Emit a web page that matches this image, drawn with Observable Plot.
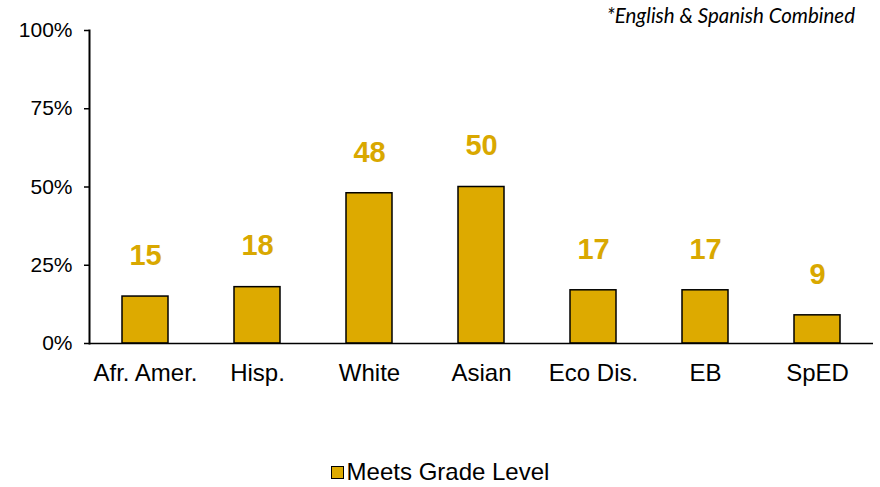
<!DOCTYPE html>
<html>
<head>
<meta charset="utf-8">
<script src="https://cdn.jsdelivr.net/npm/d3@7"></script>
<script src="https://cdn.jsdelivr.net/npm/@observablehq/plot@0.6"></script>
<style>
  html, body { margin: 0; padding: 0; background: #fff; }
  #wrap { position: relative; width: 880px; height: 487px; font-family: "Liberation Sans", Arial, sans-serif; }
  #note { position: absolute; top: 3px; right: 25px; font-family: Lato, "Open Sans", sans-serif; font-style: italic; font-size: 20.5px; color: #000; }
  #legend { position: absolute; top: 458px; left: 0; width: 880px; text-align: center; font-size: 24px; color: #000; white-space: nowrap; }
  #legend .sw { display: inline-block; width: 11px; height: 11px; background: #DDAA00; border: 1.5px solid #000; margin-right: 3px; vertical-align: 1px; }
  #chart { position: absolute; top: 0; left: 0; }
</style>
</head>
<body>
<div id="wrap">
  <div id="chart"></div>
  <div id="note">*English &amp; Spanish Combined</div>
  <div id="legend"><span class="sw"></span>Meets Grade Level</div>
</div>
<script>
const categories = ["Afr. Amer.", "Hisp.", "White", "Asian", "Eco Dis.", "EB", "SpED"];
const meetsGradeLevel = [15, 18, 48, 50, 17, 17, 9];
const yTicks = [0, 25, 50, 75, 100];
const seriesName = "Meets Grade Level";

const data = categories.map((c, i) => ({category: c, value: meetsGradeLevel[i]}));

const chart = Plot.plot({
  width: 880,
  height: 487,
  marginLeft: 89,
  marginRight: 7,
  marginTop: 30,
  marginBottom: 144,
  style: {fontFamily: "Liberation Sans, Arial, sans-serif", background: "transparent"},
  x: {domain: categories, paddingInner: 0.59, paddingOuter: 0.295, label: null},
  y: {domain: [0, 100], label: null},
  marks: [
    Plot.barY(data, {x: "category", y: "value", fill: "#DDAA00", stroke: "#000", strokeWidth: 1.5}),
    Plot.text(data, {x: "category", y: "value", text: d => String(d.value), dy: -41, fill: "#D9A800", fontSize: 29, fontWeight: "bold"}),
    Plot.axisY({ticks: yTicks, tickFormat: d => d + "%", tickSize: 5, tickPadding: 12, fontSize: 21, stroke: "#000", strokeWidth: 1.5, strokeOpacity: 1, label: null}),
    Plot.axisX({tickSize: 0, tickPadding: 20, fontSize: 24, label: null}),
    Plot.ruleY([0], {stroke: "#000", strokeWidth: 1.5}),
    Plot.frame({anchor: "left", stroke: "#000", strokeWidth: 2})
  ]
});
chart.setAttribute("aria-label", seriesName);
document.getElementById("chart").appendChild(chart);
</script>
</body>
</html>
